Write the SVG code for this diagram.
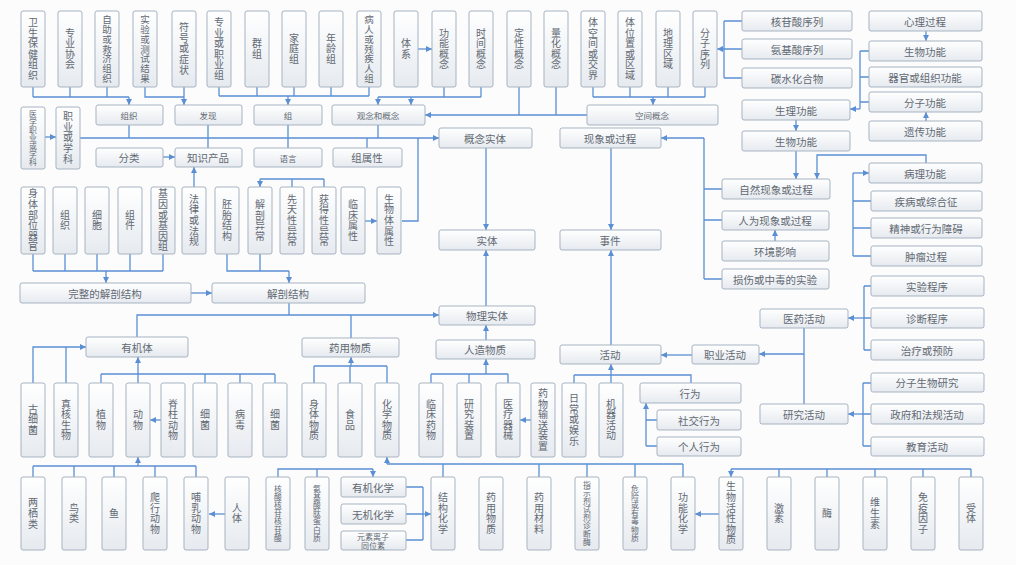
<svg xmlns="http://www.w3.org/2000/svg" width="1016" height="565" viewBox="0 0 1016 565">
<defs>
<linearGradient id="g" x1="0" y1="0" x2="0" y2="1"><stop offset="0" stop-color="#ffffff"/><stop offset="1" stop-color="#e6eaef"/></linearGradient>
<marker id="ar" markerWidth="6" markerHeight="6" refX="6" refY="3" orient="auto" markerUnits="userSpaceOnUse"><path d="M0,0 L6,3 L0,6 z" fill="#5b8fd4"/></marker>
<style>
rect{fill:url(#g);stroke:#a7b3c1;stroke-width:1}
text{font-family:"Noto Sans CJK SC","Noto Sans",sans-serif;fill:#626973;text-anchor:middle;dominant-baseline:central}
.h{font-size:10.5px}
.s{font-size:8.5px}
.v{writing-mode:vertical-rl;font-size:10px;letter-spacing:0.6px}
.v7{writing-mode:vertical-rl;font-size:9.5px;letter-spacing:0.2px}
.vs{writing-mode:vertical-rl;font-size:7.8px;letter-spacing:0.3px}
.c path{fill:none;stroke:#5b8fd4;stroke-width:1.3}
.c path.a{marker-end:url(#ar)}
</style>
</defs>
<rect x="0" y="0" width="1016" height="565" style="fill:#fcfcfd;stroke:none"/>

<g id="connectors" class="c">
<path d="M33,87V97M70,87V97M107,87V97M33,97H129"/>
<path class="a" d="M129,97V105"/>
<path d="M145,87V97H184"/>
<path class="a" d="M184,87V105"/>
<path d="M219,87V96M257,87V96M294,87V96M331,87V96M369,87V96M219,96H369"/>
<path class="a" d="M288,96V105"/>
<path class="a" d="M418,49H432"/>
<path d="M444,87V97M481,87V97M378,97H481"/>
<path class="a" d="M378,97V105"/>
<path class="a" d="M411,97V105"/>
<path d="M519,87V115M556,87V115"/>
<path class="a" d="M587,115H425"/>
<path d="M593,87V97M630,87V97M668,87V97M705,87V97M593,97H705"/>
<path class="a" d="M653,97V105"/>
<path d="M724,21V78M724,21H742M724,49H742M724,78H742"/>
<path class="a" d="M724,49H717"/>
<path class="a" d="M926,31V41"/>
<path class="a" d="M926,121V112"/>
<path d="M860,51V109M860,51H869M860,77H869M860,102H869"/>
<path class="a" d="M860,109H850"/>
<path class="a" d="M796,120V131"/>
<path class="a" d="M796,151V179"/>
<path class="a" d="M926,163V155H817V179"/>
<path d="M853,173V256M853,201H871M853,228H871M853,256H871"/>
<path class="a" d="M853,173H869"/>
<path d="M704,138V279M704,189H722M704,220H722M704,279H722"/>
<path class="a" d="M704,138H661"/>
<path class="a" d="M775,241V230"/>
<path class="a" d="M611,148V230"/>
<path class="a" d="M611,345V250"/>
<path class="a" d="M692,355H661"/>
<path d="M804,328V404"/>
<path class="a" d="M804,354H759"/>
<path d="M864,286V350M864,286H871M864,318H871M864,350H871"/>
<path class="a" d="M864,318H848"/>
<path d="M863,383V446M863,383H871M863,414H871M863,446H871"/>
<path class="a" d="M863,414H848"/>
<path d="M574,375H691V383M574,375V383M611,375V383"/>
<path class="a" d="M611,375V364"/>
<path d="M646,420V446M646,420H657M646,446H657"/>
<path class="a" d="M646,420V403"/>
<path class="a" d="M531,420H520"/>
<path d="M431,374H508M431,374V383M469,374V383M508,374V383"/>
<path class="a" d="M486,374V359"/>
<path class="a" d="M486,340V325"/>
<path class="a" d="M486,306V250"/>
<path class="a" d="M486,148V230"/>
<path class="a" d="M137,337V315H439"/>
<path d="M289,303V315M351,338V315"/>
<path d="M314,366H387M314,366V383M350,366V383M387,366V383"/>
<path class="a" d="M351,366V357"/>
<path d="M101,374H275M101,374V383M205,374V383M240,374V383M275,374V383M138,383V374"/>
<path class="a" d="M138,374V357"/>
<path class="a" d="M33,383V347H86"/>
<path d="M66,383V347"/>
<path class="a" d="M161,420H150"/>
<path d="M33,466H196M33,466V477M74,466V477M114,466V477M155,466V477M196,466V477"/>
<path class="a" d="M138,466V457"/>
<path class="a" d="M225,514H209"/>
<path d="M278,477V469H373M317,477V469"/>
<path class="a" d="M373,469V477"/>
<path d="M406,487H423M406,514H423M406,540H423M423,487V540"/>
<path class="a" d="M423,514H431"/>
<path d="M387,464H683M443,477V464M539,477V464M587,477V464M635,477V464M683,477V464"/>
<path class="a" d="M387,464V457"/>
<path class="a" d="M719,514H695"/>
<path d="M731,469H971M779,469V477M827,469V477M875,469V477M923,469V477M971,469V477"/>
<path class="a" d="M731,469V477"/>
<path d="M33,254V271M65,254V271M97,254V271M130,254V271M163,254V271M33,271H163"/>
<path class="a" d="M106,271V283"/>
<path d="M227,254V271H289M260,254V271"/>
<path class="a" d="M289,271V283"/>
<path d="M260,179H324M292,179V187M324,179V187"/>
<path class="a" d="M260,179V187"/>
<path class="a" d="M191,293H212"/>
<path class="a" d="M365,221H377"/>
<path d="M402,221H418V138"/>
<path d="M129,125V138M208,125V148M288,125V148M378,125V138M367,148V138"/>
<path class="a" d="M80,138H439"/>
<path class="a" d="M45,137H56"/>
<path class="a" d="M163,157H175"/>
<path class="a" d="M194,187V167"/>
</g>

<!-- top row vertical -->
<g id="n-wsbjzz"><rect x="21" y="11" width="24" height="76" rx="2"/><text class="v" x="33" y="49">卫生保健组织</text></g>
<g id="n-zyxh"><rect x="58" y="11" width="24" height="76" rx="2"/><text class="v" x="70" y="49">专业协会</text></g>
<g id="n-zzhjjzz"><rect x="95" y="11" width="24" height="76" rx="2"/><text class="v7" x="107" y="49">自助或救济组织</text></g>
<g id="n-syhcsjg"><rect x="133" y="11" width="24" height="76" rx="2"/><text class="v7" x="145" y="49">实验或测试结果</text></g>
<g id="n-fhhzz"><rect x="172" y="11" width="24" height="76" rx="2"/><text class="v" x="184" y="49">符号或症状</text></g>
<g id="n-zyhzyz"><rect x="207" y="11" width="24" height="76" rx="2"/><text class="v" x="219" y="49">专业或职业组</text></g>
<g id="n-qz"><rect x="245" y="11" width="24" height="76" rx="2"/><text class="v" x="257" y="49">群组</text></g>
<g id="n-jtz"><rect x="282" y="11" width="24" height="76" rx="2"/><text class="v" x="294" y="49">家庭组</text></g>
<g id="n-nlz"><rect x="319" y="11" width="24" height="76" rx="2"/><text class="v" x="331" y="49">年龄组</text></g>
<g id="n-brhcjrz"><rect x="357" y="11" width="24" height="76" rx="2"/><text class="v7" x="369" y="49">病人或残疾人组</text></g>
<g id="n-tx"><rect x="394" y="11" width="24" height="76" rx="2"/><text class="v" x="406" y="49">体系</text></g>
<g id="n-gngn"><rect x="432" y="11" width="24" height="76" rx="2"/><text class="v" x="444" y="49">功能概念</text></g>
<g id="n-sjgn"><rect x="469" y="11" width="24" height="76" rx="2"/><text class="v" x="481" y="49">时间概念</text></g>
<g id="n-dxgn"><rect x="507" y="11" width="24" height="76" rx="2"/><text class="v" x="519" y="49">定性概念</text></g>
<g id="n-lhgn"><rect x="544" y="11" width="24" height="76" rx="2"/><text class="v" x="556" y="49">量化概念</text></g>
<g id="n-tkjhjj"><rect x="581" y="11" width="24" height="76" rx="2"/><text class="v" x="593" y="49">体空间或交界</text></g>
<g id="n-twzhqy"><rect x="618" y="11" width="24" height="76" rx="2"/><text class="v" x="630" y="49">体位置或区域</text></g>
<g id="n-dlqy"><rect x="656" y="11" width="24" height="76" rx="2"/><text class="v" x="668" y="49">地理区域</text></g>
<g id="n-fzxl"><rect x="693" y="11" width="24" height="76" rx="2"/><text class="v" x="705" y="49">分子序列</text></g>

<!-- right column top -->
<g id="n-hgsxl"><rect x="742" y="11" width="110" height="20" rx="2"/><text class="h" x="797" y="21">核苷酸序列</text></g>
<g id="n-ajsxl"><rect x="742" y="39" width="110" height="20" rx="2"/><text class="h" x="797" y="49">氨基酸序列</text></g>
<g id="n-tshhw"><rect x="742" y="68" width="110" height="20" rx="2"/><text class="h" x="797" y="78">碳水化合物</text></g>
<g id="n-xlgc"><rect x="869" y="11" width="113" height="20" rx="2"/><text class="h" x="925" y="21">心理过程</text></g>
<g id="n-swgn-r"><rect x="869" y="41" width="113" height="20" rx="2"/><text class="h" x="925" y="51">生物功能</text></g>
<g id="n-qghzzgn"><rect x="869" y="67" width="113" height="20" rx="2"/><text class="h" x="925" y="77">器官或组织功能</text></g>
<g id="n-fzgn"><rect x="869" y="92" width="113" height="20" rx="2"/><text class="h" x="925" y="102">分子功能</text></g>
<g id="n-ycgn"><rect x="869" y="121" width="113" height="20" rx="2"/><text class="h" x="925" y="131">遗传功能</text></g>
<g id="n-slgn"><rect x="742" y="100" width="108" height="20" rx="2"/><text class="h" x="796" y="110">生理功能</text></g>
<g id="n-swgn-l"><rect x="742" y="131" width="108" height="20" rx="2"/><text class="h" x="796" y="141">生物功能</text></g>

<!-- second level -->
<g id="n-zz"><rect x="96" y="105" width="67" height="20" rx="2"/><text class="s" x="129" y="115">组织</text></g>
<g id="n-fx"><rect x="175" y="105" width="67" height="20" rx="2"/><text class="s" x="208" y="115">发现</text></g>
<g id="n-z"><rect x="254" y="105" width="68" height="20" rx="2"/><text class="s" x="288" y="115">组</text></g>
<g id="n-gnhgn"><rect x="332" y="105" width="93" height="20" rx="2"/><text class="s" x="378" y="115">观念和概念</text></g>
<g id="n-kjgn"><rect x="587" y="105" width="131" height="20" rx="2"/><text class="s" x="652" y="115">空间概念</text></g>
<g id="n-yxzyhxk"><rect x="21" y="107" width="24" height="62" rx="2"/><text class="vs" x="33" y="138">医学职业或学科</text></g>
<g id="n-zyhxk"><rect x="56" y="107" width="24" height="62" rx="2"/><text class="v" x="68" y="138">职业或学科</text></g>
<g id="n-fl"><rect x="96" y="148" width="67" height="19" rx="2"/><text class="h" x="129" y="157.5">分类</text></g>
<g id="n-zscp"><rect x="175" y="148" width="67" height="19" rx="2"/><text class="h" x="208" y="157.5">知识产品</text></g>
<g id="n-yy"><rect x="254" y="148" width="68" height="19" rx="2"/><text class="s" x="288" y="157.5">语言</text></g>
<g id="n-zsx"><rect x="333" y="148" width="69" height="19" rx="2"/><text class="h" x="367" y="157.5">组属性</text></g>
<g id="n-gnst"><rect x="439" y="128" width="93" height="20" rx="2"/><text class="h" x="485" y="138">概念实体</text></g>
<g id="n-xxhgc"><rect x="560" y="128" width="101" height="20" rx="2"/><text class="h" x="610" y="138">现象或过程</text></g>

<!-- third row vertical -->
<g id="n-stbwqg"><rect x="21" y="187" width="24" height="67" rx="2"/><text class="v" x="33" y="220.5">身体部位器官</text></g>
<g id="n-zz2"><rect x="53" y="187" width="24" height="67" rx="2"/><text class="v" x="65" y="220.5">组织</text></g>
<g id="n-xb"><rect x="85" y="187" width="24" height="67" rx="2"/><text class="v" x="97" y="220.5">细胞</text></g>
<g id="n-zj"><rect x="118" y="187" width="24" height="67" rx="2"/><text class="v" x="130" y="220.5">组件</text></g>
<g id="n-jyhjyz"><rect x="151" y="187" width="24" height="67" rx="2"/><text class="v" x="163" y="220.5">基因或基因组</text></g>
<g id="n-flhfg"><rect x="182" y="187" width="24" height="67" rx="2"/><text class="v" x="194" y="220.5">法律或法规</text></g>
<g id="n-ptjg"><rect x="215" y="187" width="24" height="67" rx="2"/><text class="v" x="227" y="220.5">胚胎结构</text></g>
<g id="n-jpyc"><rect x="248" y="187" width="24" height="67" rx="2"/><text class="v" x="260" y="220.5">解剖异常</text></g>
<g id="n-xtxyc"><rect x="280" y="187" width="24" height="67" rx="2"/><text class="v" x="292" y="220.5">先天性异常</text></g>
<g id="n-hdxyc"><rect x="312" y="187" width="24" height="67" rx="2"/><text class="v" x="324" y="220.5">获得性异常</text></g>
<g id="n-lcsx"><rect x="341" y="187" width="24" height="67" rx="2"/><text class="v" x="353" y="220.5">临床属性</text></g>
<g id="n-swtsx"><rect x="377" y="187" width="24" height="67" rx="2"/><text class="v" x="389" y="220.5">生物体属性</text></g>

<g id="n-st"><rect x="439" y="230" width="96" height="20" rx="2"/><text class="h" x="487" y="240">实体</text></g>
<g id="n-sj"><rect x="560" y="230" width="101" height="20" rx="2"/><text class="h" x="610" y="240">事件</text></g>

<g id="n-zrxx"><rect x="722" y="179" width="108" height="20" rx="2"/><text class="h" x="776" y="189">自然现象或过程</text></g>
<g id="n-rwxx"><rect x="722" y="211" width="107" height="19" rx="2"/><text class="h" x="775" y="220.5">人为现象或过程</text></g>
<g id="n-hjyx"><rect x="722" y="241" width="107" height="20" rx="2"/><text class="h" x="775" y="251">环境影响</text></g>
<g id="n-ssdsy"><rect x="722" y="269" width="107" height="20" rx="2"/><text class="h" x="775" y="279">损伤或中毒的实验</text></g>
<g id="n-blgn"><rect x="869" y="163" width="113" height="20" rx="2"/><text class="h" x="925" y="173">病理功能</text></g>
<g id="n-jbzhz"><rect x="871" y="191" width="111" height="20" rx="2"/><text class="h" x="926" y="201">疾病或综合征</text></g>
<g id="n-jszab"><rect x="871" y="218" width="111" height="20" rx="2"/><text class="h" x="926" y="228">精神或行为障碍</text></g>
<g id="n-zlgc"><rect x="871" y="246" width="111" height="20" rx="2"/><text class="h" x="926" y="256">肿瘤过程</text></g>

<g id="n-wzjpjg"><rect x="20" y="283" width="171" height="20" rx="2"/><text class="h" x="105" y="293">完整的解剖结构</text></g>
<g id="n-jpjg"><rect x="212" y="283" width="153" height="20" rx="2"/><text class="h" x="288" y="293">解剖结构</text></g>
<g id="n-wlst"><rect x="439" y="306" width="96" height="19" rx="2"/><text class="h" x="487" y="315.5">物理实体</text></g>
<g id="n-yjt"><rect x="86" y="337" width="102" height="20" rx="2"/><text class="h" x="137" y="347">有机体</text></g>
<g id="n-yywz-m"><rect x="302" y="338" width="97" height="19" rx="2"/><text class="h" x="350" y="347.5">药用物质</text></g>
<g id="n-rzwz"><rect x="436" y="340" width="99" height="19" rx="2"/><text class="h" x="485" y="349.5">人造物质</text></g>
<g id="n-hd"><rect x="560" y="345" width="101" height="19" rx="2"/><text class="h" x="610" y="354.5">活动</text></g>
<g id="n-zyhd"><rect x="692" y="345" width="67" height="19" rx="2"/><text class="h" x="725" y="354.5">职业活动</text></g>
<g id="n-yyhd"><rect x="760" y="309" width="88" height="19" rx="2"/><text class="h" x="804" y="318.5">医药活动</text></g>
<g id="n-sycx"><rect x="871" y="276" width="113" height="20" rx="2"/><text class="h" x="927" y="286">实验程序</text></g>
<g id="n-zdcx"><rect x="871" y="308" width="113" height="20" rx="2"/><text class="h" x="927" y="318">诊断程序</text></g>
<g id="n-zlhyf"><rect x="871" y="340" width="113" height="20" rx="2"/><text class="h" x="927" y="350">治疗或预防</text></g>

<!-- fourth row vertical -->
<g id="n-gxj"><rect x="21" y="383" width="24" height="74" rx="2"/><text class="v" x="33" y="420">古细菌</text></g>
<g id="n-zhsw"><rect x="54" y="383" width="24" height="74" rx="2"/><text class="v" x="66" y="420">真核生物</text></g>
<g id="n-zw"><rect x="89" y="383" width="24" height="74" rx="2"/><text class="v" x="101" y="420">植物</text></g>
<g id="n-dw"><rect x="126" y="383" width="24" height="74" rx="2"/><text class="v" x="138" y="420">动物</text></g>
<g id="n-jzdw"><rect x="161" y="383" width="24" height="74" rx="2"/><text class="v" x="173" y="420">脊柱动物</text></g>
<g id="n-xj1"><rect x="193" y="383" width="24" height="74" rx="2"/><text class="v" x="205" y="420">细菌</text></g>
<g id="n-bd"><rect x="228" y="383" width="24" height="74" rx="2"/><text class="v" x="240" y="420">病毒</text></g>
<g id="n-xj2"><rect x="263" y="383" width="24" height="74" rx="2"/><text class="v" x="275" y="420">细菌</text></g>
<g id="n-stwz"><rect x="302" y="383" width="24" height="74" rx="2"/><text class="v" x="314" y="420">身体物质</text></g>
<g id="n-sp"><rect x="338" y="383" width="24" height="74" rx="2"/><text class="v" x="350" y="420">食品</text></g>
<g id="n-hxwz"><rect x="375" y="383" width="24" height="74" rx="2"/><text class="v" x="387" y="420">化学物质</text></g>
<g id="n-lcyw"><rect x="419" y="383" width="24" height="74" rx="2"/><text class="v" x="431" y="420">临床药物</text></g>
<g id="n-yjzz"><rect x="457" y="383" width="24" height="74" rx="2"/><text class="v" x="469" y="420">研究装置</text></g>
<g id="n-ylqx"><rect x="496" y="383" width="24" height="74" rx="2"/><text class="v" x="508" y="420">医疗器械</text></g>
<g id="n-ywsszz"><rect x="531" y="383" width="24" height="74" rx="2"/><text class="v" x="543" y="420">药物输送装置</text></g>
<g id="n-rchyl"><rect x="562" y="383" width="24" height="74" rx="2"/><text class="v" x="574" y="420">日常或娱乐</text></g>
<g id="n-jqhd"><rect x="599" y="383" width="24" height="74" rx="2"/><text class="v" x="611" y="420">机器活动</text></g>
<g id="n-xw"><rect x="640" y="383" width="101" height="20" rx="2"/><text class="h" x="690" y="393">行为</text></g>
<g id="n-sjxw"><rect x="657" y="410" width="84" height="20" rx="2"/><text class="h" x="699" y="420">社交行为</text></g>
<g id="n-grxw"><rect x="657" y="437" width="84" height="19" rx="2"/><text class="h" x="699" y="446.5">个人行为</text></g>
<g id="n-yjhd"><rect x="760" y="404" width="88" height="20" rx="2"/><text class="h" x="804" y="414">研究活动</text></g>
<g id="n-fzswyj"><rect x="871" y="373" width="113" height="19" rx="2"/><text class="h" x="927" y="382.5">分子生物研究</text></g>
<g id="n-zfhfghd"><rect x="871" y="404" width="113" height="20" rx="2"/><text class="h" x="927" y="414">政府和法规活动</text></g>
<g id="n-jyhd"><rect x="871" y="437" width="113" height="19" rx="2"/><text class="h" x="927" y="446.5">教育活动</text></g>

<!-- bottom row -->
<g id="n-lql"><rect x="21" y="477" width="24" height="73" rx="2"/><text class="v" x="33" y="513.5">两栖类</text></g>
<g id="n-nl"><rect x="62" y="477" width="24" height="73" rx="2"/><text class="v" x="74" y="513.5">鸟类</text></g>
<g id="n-y"><rect x="102" y="477" width="24" height="73" rx="2"/><text class="v" x="114" y="513.5">鱼</text></g>
<g id="n-pxdw"><rect x="143" y="477" width="24" height="73" rx="2"/><text class="v" x="155" y="513.5">爬行动物</text></g>
<g id="n-brdw"><rect x="184" y="477" width="24" height="73" rx="2"/><text class="v" x="196" y="513.5">哺乳动物</text></g>
<g id="n-rt"><rect x="225" y="477" width="24" height="73" rx="2"/><text class="v" x="237" y="513.5">人体</text></g>
<g id="n-hshg"><rect x="266" y="477" width="24" height="73" rx="2"/><text class="vs" x="278" y="513.5">核酸核苷核苷酸</text></g>
<g id="n-ajst"><rect x="305" y="477" width="24" height="73" rx="2"/><text class="vs" x="317" y="513.5">氨基酸肽蛋白质</text></g>
<g id="n-yjhx"><rect x="341" y="477" width="65" height="20" rx="2"/><text class="h" x="373" y="487">有机化学</text></g>
<g id="n-wjhx"><rect x="341" y="504" width="65" height="20" rx="2"/><text class="h" x="373" y="514">无机化学</text></g>
<g id="n-ysly"><rect x="341" y="531" width="65" height="19" rx="2"/><text class="s" x="373" y="540.5" style="font-size:8px"><tspan x="373" dy="-4.5">元素离子</tspan><tspan x="373" dy="9">同位素</tspan></text></g>
<g id="n-jghx"><rect x="431" y="477" width="24" height="73" rx="2"/><text class="v" x="443" y="513.5">结构化学</text></g>
<g id="n-yywz-b"><rect x="479" y="477" width="24" height="73" rx="2"/><text class="v" x="491" y="513.5">药用物质</text></g>
<g id="n-yycl"><rect x="527" y="477" width="24" height="73" rx="2"/><text class="v" x="539" y="513.5">药用材料</text></g>
<g id="n-zsj"><rect x="575" y="477" width="24" height="73" rx="2"/><text class="vs" x="587" y="513.5">指示剂试剂诊断酶</text></g>
<g id="n-wxyd"><rect x="623" y="477" width="24" height="73" rx="2"/><text class="vs" x="635" y="513.5">危险或有毒物质</text></g>
<g id="n-gnhx"><rect x="671" y="477" width="24" height="73" rx="2"/><text class="v" x="683" y="513.5">功能化学</text></g>
<g id="n-swhx"><rect x="719" y="477" width="24" height="73" rx="2"/><text class="v" x="731" y="513.5">生物活性物质</text></g>
<g id="n-js"><rect x="767" y="477" width="24" height="73" rx="2"/><text class="v" x="779" y="513.5">激素</text></g>
<g id="n-m"><rect x="815" y="477" width="24" height="73" rx="2"/><text class="v" x="827" y="513.5">酶</text></g>
<g id="n-wss"><rect x="863" y="477" width="24" height="73" rx="2"/><text class="v" x="875" y="513.5">维生素</text></g>
<g id="n-myyz"><rect x="911" y="477" width="24" height="73" rx="2"/><text class="v" x="923" y="513.5">免疫因子</text></g>
<g id="n-st2"><rect x="959" y="477" width="24" height="73" rx="2"/><text class="v" x="971" y="513.5">受体</text></g>
</svg>
